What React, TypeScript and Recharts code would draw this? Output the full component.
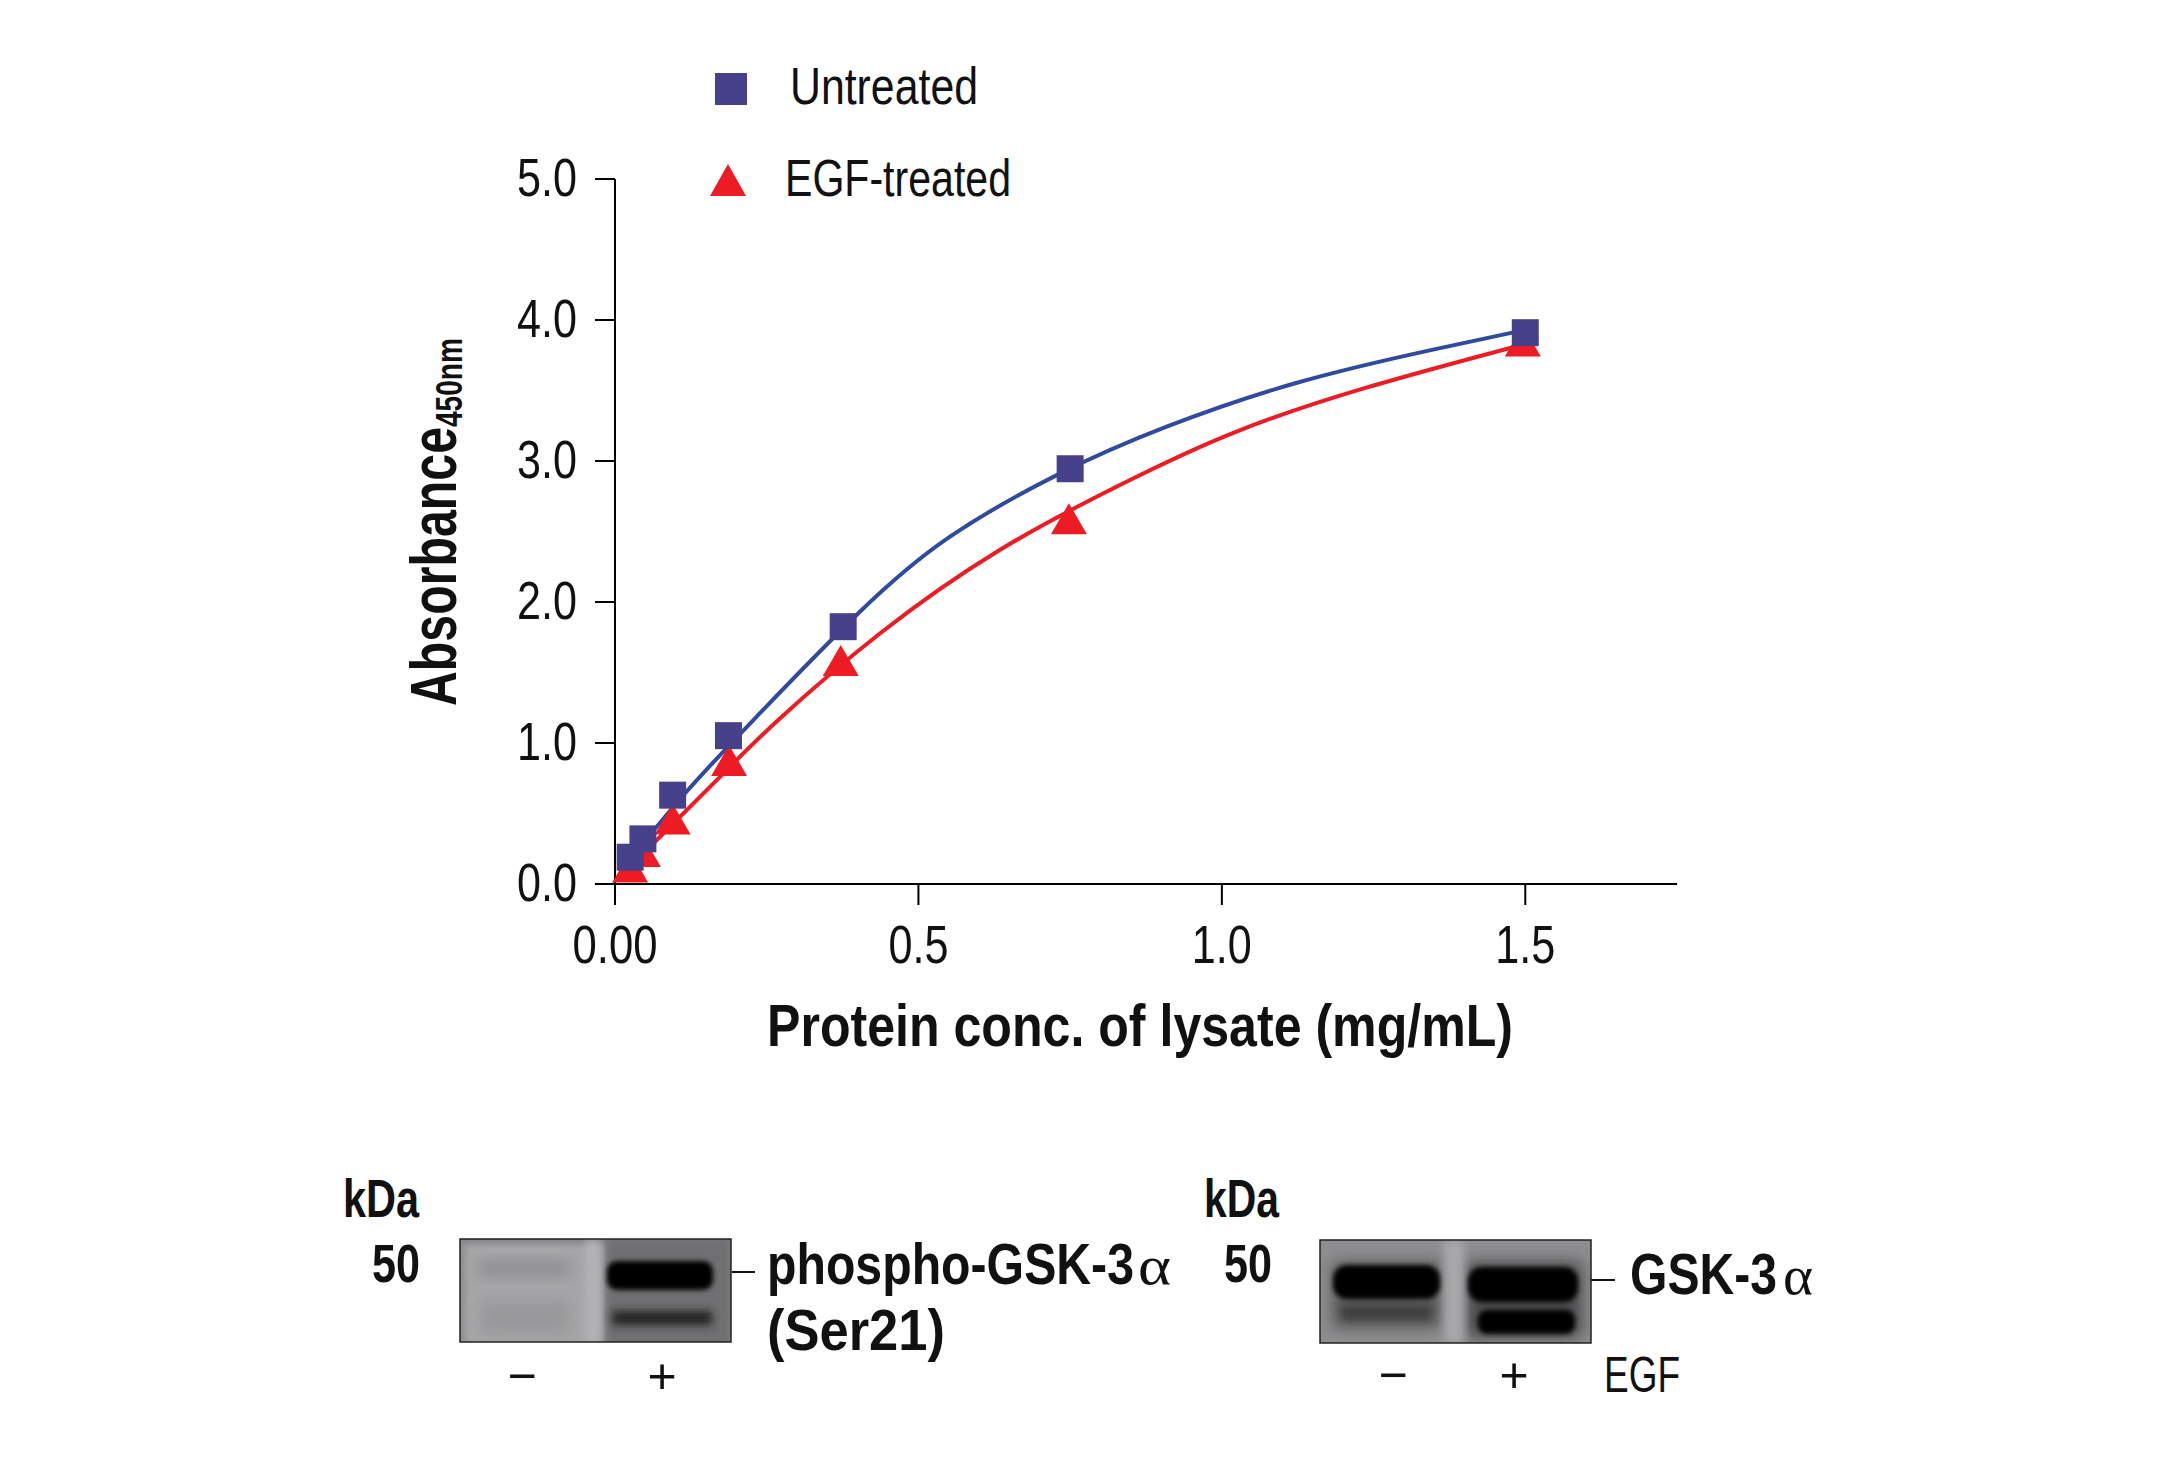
import { ComposedChart, Line, Scatter, XAxis, YAxis } from "recharts";

const seriesNames = ["Untreated", "EGF-treated"];

// measured points
const untreatedConc = [0.025, 0.046, 0.095, 0.187, 0.376, 0.75, 1.5];
const untreatedValues = [0.19, 0.32, 0.63, 1.052, 1.825, 2.945, 3.91];
const egfConc = [0.025, 0.046, 0.095, 0.188, 0.372, 0.748, 1.496];
const egfValues = [0.11, 0.22, 0.45, 0.865, 1.575, 2.58, 3.84];

// fitted curves
const untreatedFitX = [0.008, 0.113, 0.228, 0.401, 0.552, 0.728, 0.909, 1.128, 1.348, 1.5];
const untreatedFitY = [0.087, 0.631, 1.163, 1.92, 2.463, 2.9, 3.243, 3.56, 3.79, 3.93];
const egfFitX = [0.015, 0.168, 0.269, 0.437, 0.634, 0.832, 1.019, 1.238, 1.5];
const egfFitY = [0.08, 0.738, 1.163, 1.778, 2.369, 2.83, 3.2, 3.52, 3.83];

const xTicks = [0, 0.5, 1, 1.5];
const xTickLabels = ["0.00", "0.5", "1.0", "1.5"];
const yTicks = [0, 1, 2, 3, 4, 5];
const yTickLabels = ["0.0", "1.0", "2.0", "3.0", "4.0", "5.0"];

const untreatedPoints = untreatedConc.map((x, i) => ({ x, y: untreatedValues[i] }));
const egfPoints = egfConc.map((x, i) => ({ x, y: egfValues[i] }));
const untreatedFit = untreatedFitX.map((x, i) => ({ x, y: untreatedFitY[i] }));
const egfFit = egfFitX.map((x, i) => ({ x, y: egfFitY[i] }));

const NARROW = '"Liberation Sans Narrow", "Liberation Sans", sans-serif';
const SERIF = '"Liberation Serif", serif';
const SQUARE = "#47408b";
const BLUE = "#2f4a9e";
const RED = "#ed1c24";

function SquareDot({ cx, cy }: any) {
  return <rect x={cx - 13.5} y={cy - 13.5} width={27} height={27} fill={SQUARE} />;
}

function TriangleDot({ cx, cy }: any) {
  return <polygon points={`${cx},${cy - 17} ${cx - 18},${cy + 14} ${cx + 18},${cy + 14}`} fill={RED} />;
}

function XTick({ x, y, payload }: any) {
  const label = xTickLabels[xTicks.indexOf(payload.value)];
  return (
    <text x={x} y={y + 56} textAnchor="middle" fontFamily={NARROW} fontSize={54} fill="#111"
      textLength={label.length > 3 ? 85 : 60} lengthAdjust="spacingAndGlyphs">
      {label}
    </text>
  );
}

function YTick({ y, payload }: any) {
  const label = yTickLabels[yTicks.indexOf(payload.value)];
  return (
    <text x={577} y={y + 17} textAnchor="end" fontFamily={NARROW} fontSize={54} fill="#111"
      textLength={60} lengthAdjust="spacingAndGlyphs">
      {label}
    </text>
  );
}

function Txt({ x, y, w, size, bold, children, family, anchor }: any) {
  return (
    <text x={x} y={y} fontFamily={family || NARROW} fontSize={size} fontWeight={bold ? 700 : 400}
      fill="#111" textAnchor={anchor} textLength={w} lengthAdjust="spacingAndGlyphs">
      {children}
    </text>
  );
}

function Blots() {
  return (
    <svg width={2172} height={1463} style={{ position: "absolute", left: 0, top: 0 }}>
      <defs>
        <filter id="b2" x="-30%" y="-80%" width="160%" height="260%"><feGaussianBlur stdDeviation="2.5" /></filter>
        <filter id="b4" x="-30%" y="-80%" width="160%" height="260%"><feGaussianBlur stdDeviation="4" /></filter>
        <filter id="b8" x="-40%" y="-100%" width="180%" height="300%"><feGaussianBlur stdDeviation="8" /></filter>
        <clipPath id="c1"><rect x={460} y={1239} width={271} height={103} /></clipPath>
        <clipPath id="c2"><rect x={1320} y={1240} width={271} height={103} /></clipPath>
      </defs>

      {/* legend */}
      <rect x={715} y={73} width={32} height={32} fill={SQUARE} />
      <Txt x={790} y={104} w={188} size={52}>{seriesNames[0]}</Txt>
      <polygon points="728,164 710,196 746,196" fill={RED} />
      <Txt x={785} y={196} w={226} size={52}>{seriesNames[1]}</Txt>

      {/* axis titles */}
      <Txt x={767} y={1046} w={746} size={60} bold>Protein conc. of lysate (mg/mL)</Txt>
      <g transform="translate(456 706) rotate(-90)">
        <Txt x={0} y={0} w={279} size={64} bold>Absorbance</Txt>
      </g>
      <g transform="translate(462 427) rotate(-90)">
        <Txt x={0} y={0} w={89} size={36} bold>450nm</Txt>
      </g>

      {/* left blot */}
      <g clipPath="url(#c1)">
        <rect x={460} y={1239} width={271} height={103} fill="#a6a6a8" />
        <rect x={604} y={1230} width={130} height={120} fill="#6f6f72" filter="url(#b4)" />
        <rect x={450} y={1232} width={290} height={10} fill="#77777a" filter="url(#b4)" />
        <rect x={450} y={1240} width={14} height={110} fill="#88888a" filter="url(#b4)" />
        <rect x={478} y={1263} width={92} height={11} fill="#838386" filter="url(#b8)" />
        <rect x={480} y={1300} width={90} height={34} fill="#98989a" filter="url(#b8)" />
        <rect x={586} y={1240} width={14} height={103} fill="#b4b4b6" filter="url(#b4)" />
        <rect x={607} y={1261} width={106} height={29} rx={10} fill="#000" filter="url(#b2)" />
        <rect x={612} y={1311} width={100} height={14} fill="#222224" filter="url(#b4)" />
      </g>
      <rect x={460} y={1239} width={271} height={103} fill="none" stroke="#222" strokeWidth={1.5} />
      <line x1={732} x2={755} y1={1272} y2={1272} stroke="#111" strokeWidth={2} />

      {/* right blot */}
      <g clipPath="url(#c2)">
        <rect x={1320} y={1240} width={271} height={103} fill="#8e8e90" />
        <rect x={1332} y={1262} width={110} height={66} fill="#5a5a5c" filter="url(#b8)" />
        <rect x={1466} y={1262} width={116} height={76} fill="#4a4a4c" filter="url(#b8)" />
        <rect x={1444} y={1240} width={20} height={103} fill="#a8a8aa" filter="url(#b4)" />
        <rect x={1333} y={1265} width={107} height={34} rx={14} fill="#000" filter="url(#b2)" />
        <rect x={1468} y={1267} width={110} height={35} rx={14} fill="#000" filter="url(#b2)" />
        <rect x={1341} y={1306} width={90} height={14} fill="#3c3c3e" filter="url(#b4)" />
        <rect x={1478} y={1310} width={97} height={24} rx={9} fill="#000" filter="url(#b2)" />
      </g>
      <rect x={1320} y={1240} width={271} height={103} fill="none" stroke="#222" strokeWidth={1.5} />
      <line x1={1591} x2={1615} y1={1280} y2={1280} stroke="#111" strokeWidth={2} />

      {/* blot labels */}
      <Txt x={343} y={1217} w={76} size={54} bold>kDa</Txt>
      <Txt x={372} y={1282} w={48} size={54} bold>50</Txt>
      <Txt x={767} y={1284} w={367} size={57} bold>phospho-GSK-3</Txt>
      <Txt x={1138} y={1284} w={33} size={54} family={SERIF}>α</Txt>
      <Txt x={767} y={1350} w={178} size={57} bold>(Ser21)</Txt>
      <Txt x={522} y={1393} size={50} anchor="middle">−</Txt>
      <Txt x={662} y={1393} size={50} anchor="middle">+</Txt>

      <Txt x={1204} y={1217} w={75} size={54} bold>kDa</Txt>
      <Txt x={1224} y={1282} w={48} size={54} bold>50</Txt>
      <Txt x={1630} y={1294} w={147} size={57} bold>GSK-3</Txt>
      <Txt x={1783} y={1294} w={30} size={54} family={SERIF}>α</Txt>
      <Txt x={1393} y={1392} size={50} anchor="middle">−</Txt>
      <Txt x={1514} y={1392} size={50} anchor="middle">+</Txt>
      <Txt x={1604} y={1392} w={76} size={50}>EGF</Txt>
    </svg>
  );
}

export default function App() {
  return (
    <div style={{ position: "absolute", left: 0, top: 0, width: 2172, height: 1463, background: "#fff" }}>
      <ComposedChart
        width={2172}
        height={1463}
        margin={{ left: 515, right: 495, top: 179, bottom: 479 }}
      >
        <XAxis
          type="number" dataKey="x" domain={[0, 1.75]} ticks={xTicks} height={100}
          stroke="#000" strokeWidth={2} tickSize={21} tick={<XTick />} interval={0}
          tickLine={{ stroke: "#000", strokeWidth: 2 }}
        />
        <YAxis
          type="number" dataKey="y" domain={[0, 5]} ticks={yTicks} width={100}
          stroke="#000" strokeWidth={2} tickSize={20} tick={<YTick />} interval={0}
          tickLine={{ stroke: "#000", strokeWidth: 2 }}
        />
        <Scatter data={egfPoints} dataKey="y" fill={RED} shape={<TriangleDot />} isAnimationActive={false} />
        <Line data={egfFit} dataKey="y" type="natural" stroke={RED} strokeWidth={4} dot={false} activeDot={false} isAnimationActive={false} />
        <Scatter data={untreatedPoints} dataKey="y" fill={SQUARE} shape={<SquareDot />} isAnimationActive={false} />
        <Line data={untreatedFit} dataKey="y" type="natural" stroke={BLUE} strokeWidth={4} dot={false} activeDot={false} isAnimationActive={false} />
      </ComposedChart>
      <Blots />
    </div>
  );
}
